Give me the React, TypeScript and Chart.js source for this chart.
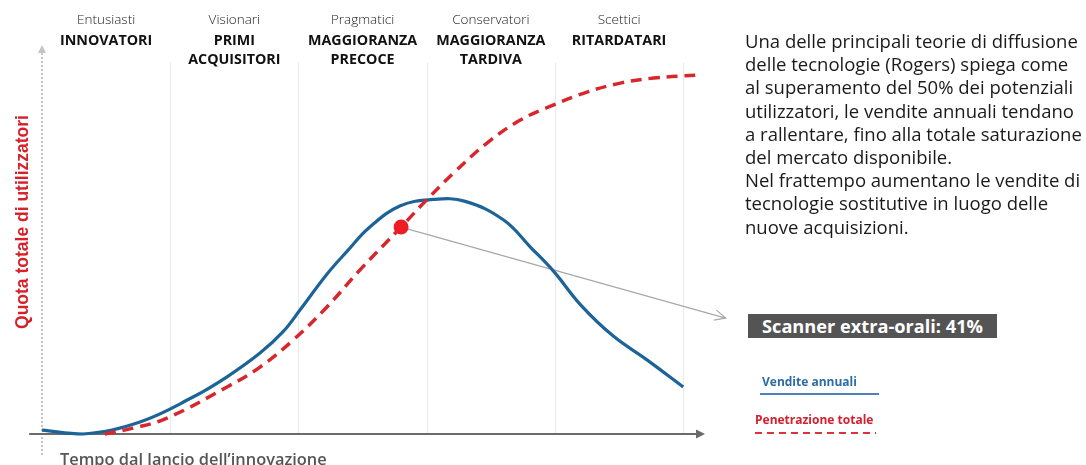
import React, { useEffect, useRef } from "react";
import { Chart, registerables } from "chart.js";

Chart.register(...registerables);

// ---- data ----
const phaseLight = ["Entusiasti", "Visionari", "Pragmatici", "Conservatori", "Scettici"];
const phaseBold = [
  ["INNOVATORI"],
  ["PRIMI", "ACQUISITORI"],
  ["MAGGIORANZA", "PRECOCE"],
  ["MAGGIORANZA", "TARDIVA"],
  ["RITARDATARI"],
];

const salesTime = [0, 0.32, 0.764, 1.178, 1.443, 1.7, 1.88, 2.01, 2.22, 2.38, 2.55, 2.79, 3.05, 3.3, 3.6, 3.81, 3.99, 4.2, 4.45, 4.72, 5.0];
const salesValues = [1.0, 0, 3.1, 9.5, 14.7, 20.8, 26.3, 31.8, 41.0, 47.0, 53.0, 58.6, 60.3, 59.8, 55.0, 48.0, 41.8, 33.2, 25.3, 19.0, 12.1];

const adoptTime = [0.49, 0.71, 0.975, 1.443, 1.7, 1.96, 2.22, 2.48, 2.8, 3.0, 3.21, 3.47, 3.73, 3.99, 4.25, 4.51, 4.77, 5.13];
const adoptValues = [0, 1.5, 4.1, 12.1, 17.2, 24.2, 32.6, 42.2, 53.2, 60.2, 67.1, 74.8, 80.7, 84.6, 87.9, 90.2, 91.5, 92.3];

const markerTime = [2.8];
const markerValue = [53.2];
const calloutEnd = [5.33, 29.8];

const paragraph = [
  "Una delle principali teorie di diffusione",
  "delle tecnologie (Rogers) spiega come",
  "al superamento del 50% dei potenziali",
  "utilizzatori, le vendite annuali tendano",
  "a rallentare, fino alla totale saturazione",
  "del mercato disponibile.",
  "Nel frattempo aumentano le vendite di",
  "tecnologie sostitutive in luogo delle",
  "nuove acquisizioni.",
];

const W = 1086;
const H = 465;
const PAD = { left: 42, right: 381, top: 45, bottom: 31 };
const X_MAX = 5.17;
const UNIT = (W - PAD.left - PAD.right) / X_MAX;

const FONT = "'Open Sans', 'Noto Sans', sans-serif";

const decor = {
  id: "decor",
  beforeDatasetsDraw(chart: any) {
    const { ctx, scales } = chart;
    const xs = scales.x;
    const ys = scales.y;
    ctx.save();
    // vertical phase separators
    ctx.strokeStyle = "#e9e9e9";
    ctx.lineWidth = 1;
    for (let i = 1; i <= 5; i++) {
      const px = Math.round(xs.getPixelForValue(i)) + 0.5;
      ctx.beginPath();
      ctx.moveTo(px, ys.getPixelForValue(95.5));
      ctx.lineTo(px, ys.getPixelForValue(0));
      ctx.stroke();
    }
    // y axis dotted with arrow
    const x0 = xs.getPixelForValue(0);
    ctx.strokeStyle = "#c4c4c4";
    ctx.lineWidth = 2;
    ctx.setLineDash([2, 2]);
    ctx.beginPath();
    ctx.moveTo(x0, ys.getPixelForValue(-5.4));
    ctx.lineTo(x0, ys.getPixelForValue(98));
    ctx.stroke();
    ctx.setLineDash([]);
    ctx.fillStyle = "#c4c4c4";
    const yTop = ys.getPixelForValue(100);
    ctx.beginPath();
    ctx.moveTo(x0, yTop);
    ctx.lineTo(x0 - 4, yTop + 8);
    ctx.lineTo(x0 + 4, yTop + 8);
    ctx.closePath();
    ctx.fill();
    // x axis with arrow
    const y0 = ys.getPixelForValue(0);
    const xStart = xs.getPixelForValue(-0.1);
    const xEnd = xs.getPixelForValue(X_MAX);
    ctx.strokeStyle = "#6b6b6b";
    ctx.lineWidth = 2.2;
    ctx.beginPath();
    ctx.moveTo(xStart, y0);
    ctx.lineTo(xEnd - 6, y0);
    ctx.stroke();
    ctx.fillStyle = "#6b6b6b";
    ctx.beginPath();
    ctx.moveTo(xEnd, y0);
    ctx.lineTo(xEnd - 9, y0 - 4.5);
    ctx.lineTo(xEnd - 9, y0 + 4.5);
    ctx.closePath();
    ctx.fill();
    // callout line
    const ax = xs.getPixelForValue(markerTime[0]);
    const ay = ys.getPixelForValue(markerValue[0]);
    const bx = xs.getPixelForValue(calloutEnd[0]);
    const by = ys.getPixelForValue(calloutEnd[1]);
    ctx.strokeStyle = "#a8a8a8";
    ctx.lineWidth = 1.2;
    ctx.beginPath();
    ctx.moveTo(ax, ay);
    ctx.lineTo(bx, by);
    ctx.stroke();
    const ang = Math.atan2(by - ay, bx - ax);
    const L = 12;
    ctx.beginPath();
    ctx.moveTo(bx - L * Math.cos(ang - 0.45), by - L * Math.sin(ang - 0.45));
    ctx.lineTo(bx, by);
    ctx.lineTo(bx - L * Math.cos(ang + 0.45), by - L * Math.sin(ang + 0.45));
    ctx.stroke();
    ctx.restore();
  },
};

export default function App() {
  const ref = useRef<HTMLCanvasElement | null>(null);

  useEffect(() => {
    if (!ref.current) return;
    const sales = salesTime.map((x, i) => ({ x, y: salesValues[i] }));
    const adopt = adoptTime.map((x, i) => ({ x, y: adoptValues[i] }));
    const marker = markerTime.map((x, i) => ({ x, y: markerValue[i] }));
    const chart = new Chart(ref.current, {
      type: "line",
      data: {
        datasets: [
          {
            label: "Vendite annuali",
            data: sales,
            borderColor: "#1c6498",
            borderWidth: 3.2,
            pointRadius: 0,
            tension: 0.4,
            fill: false,
            order: 2,
            clip: false,
          } as any,
          {
            label: "Penetrazione totale",
            data: adopt,
            borderColor: "#d8262d",
            borderWidth: 3.5,
            borderDash: [11, 7],
            pointRadius: 0,
            tension: 0.4,
            fill: false,
            order: 1,
            clip: false,
          } as any,
          {
            label: "Scanner extra-orali",
            data: marker,
            showLine: false,
            pointRadius: 7.5,
            pointBackgroundColor: "#ee1c24",
            pointBorderWidth: 0,
            order: 0,
            clip: false,
          } as any,
        ],
      },
      options: {
        responsive: false,
        animation: false,
        events: [],
        layout: { padding: PAD },
        scales: {
          x: { type: "linear", min: 0, max: X_MAX, display: false },
          y: { type: "linear", min: 0, max: 100, display: false },
        },
        plugins: { legend: { display: false }, tooltip: { enabled: false } },
      },
      plugins: [decor],
    });
    return () => chart.destroy();
  }, []);

  const colCenter = (i: number) => PAD.left + (i + 0.5) * UNIT;

  return (
    <div style={{ position: "absolute", left: 0, top: 0, width: W, height: H, background: "#fff", overflow: "hidden" }}>
      <canvas ref={ref} width={W} height={H} style={{ position: "absolute", left: 0, top: 0, display: "block" }} />
      {phaseLight.map((t, i) => (
        <div key={"l" + i} style={{ position: "absolute", left: colCenter(i) - 75, width: 150, top: 10, lineHeight: "18px", fontSize: 13.5, fontWeight: 300, fontFamily: FONT, color: "#222", textAlign: "center" }}>
          {t}
        </div>
      ))}
      {phaseBold.map((lines, i) => (
        <div key={"b" + i} style={{ position: "absolute", left: colCenter(i) - 75, width: 150, top: 30, lineHeight: "19px", fontSize: 14.3, fontWeight: 700, fontFamily: FONT, color: "#111", textAlign: "center" }}>
          {lines.map((l, j) => (
            <div key={j}>{l}</div>
          ))}
        </div>
      ))}
      <div style={{ position: "absolute", left: 22 - 150, top: 222 - 11, width: 300, height: 22, lineHeight: "22px", transform: "rotate(-90deg)", textAlign: "center", fontFamily: "'Liberation Sans', Arial, sans-serif", fontWeight: 700, fontSize: 17.5, color: "#d8202a", whiteSpace: "nowrap" }}>
        Quota totale di utilizzatori
      </div>
      <div style={{ position: "absolute", left: 60, top: 448, lineHeight: "22px", fontFamily: FONT, fontWeight: 600, fontSize: 16.4, color: "#555", whiteSpace: "nowrap" }}>
        Tempo dal lancio dell’innovazione
      </div>
      <div style={{ position: "absolute", left: 745, top: 29, fontFamily: FONT, fontSize: 18.5, lineHeight: "23.2px", color: "#1a1a1a", whiteSpace: "nowrap" }}>
        {paragraph.map((l, i) => (
          <div key={i}>{l}</div>
        ))}
      </div>
      <div style={{ position: "absolute", left: 748, top: 314, width: 249, height: 24, background: "#545454", color: "#fff", fontFamily: FONT, fontWeight: 700, fontSize: 18.2, lineHeight: "24px", textAlign: "center", whiteSpace: "nowrap" }}>
        Scanner extra-orali: 41%
      </div>
      <div style={{ position: "absolute", left: 762, top: 373, lineHeight: "18px", fontFamily: FONT, fontWeight: 700, fontSize: 12, color: "#2c6ca6", whiteSpace: "nowrap" }}>
        Vendite annuali
      </div>
      <div style={{ position: "absolute", left: 760, top: 393, width: 119, height: 2, background: "#4f80c2" }} />
      <div style={{ position: "absolute", left: 755, top: 411, lineHeight: "18px", fontFamily: FONT, fontWeight: 700, fontSize: 12, color: "#d42030", whiteSpace: "nowrap" }}>
        Penetrazione totale
      </div>
      <div style={{ position: "absolute", left: 755, top: 432, width: 121, height: 2, background: "repeating-linear-gradient(to right, #d9343b 0 7px, transparent 7px 12px)" }} />
    </div>
  );
}
